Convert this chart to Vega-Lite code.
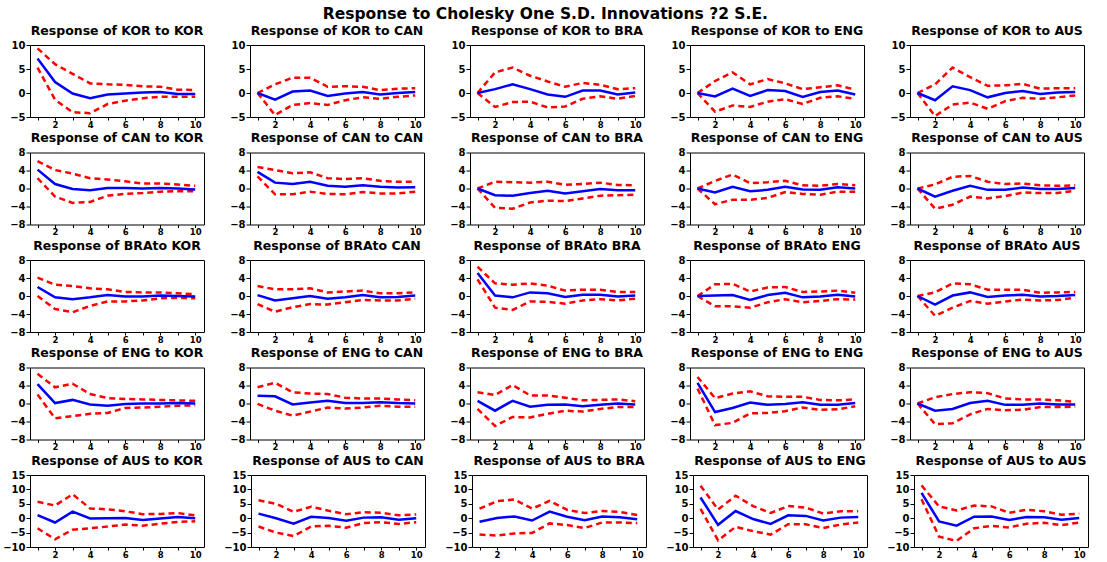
{
"$schema": "https://vega.github.io/schema/vega-lite/v6.json",
"padding": {"left": 2, "top": 6, "right": 0, "bottom": 0},
"title": {"text": "Response to Cholesky One S.D. Innovations ?2 S.E.", "font": "DejaVu Sans", "fontSize": 15.5, "fontWeight": "bold", "color": "black", "anchor": "middle", "offset": 2.5},
"datasets": {"d": [
{"r":"KOR","s":"KOR","t":1,"m":7.2,"l":5.3,"h":9.3},{"r":"KOR","s":"KOR","t":2,"m":2.3,"l":-1.4,"h":6.0},{"r":"KOR","s":"KOR","t":3,"m":-0.1,"l":-4.0,"h":4.0},{"r":"KOR","s":"KOR","t":4,"m":-1.1,"l":-4.2,"h":2.0},{"r":"KOR","s":"KOR","t":5,"m":-0.3,"l":-2.3,"h":1.8},{"r":"KOR","s":"KOR","t":6,"m":-0.1,"l":-1.6,"h":1.7},{"r":"KOR","s":"KOR","t":7,"m":0.1,"l":-1.1,"h":1.4},{"r":"KOR","s":"KOR","t":8,"m":0.2,"l":-0.8,"h":1.3},{"r":"KOR","s":"KOR","t":9,"m":-0.2,"l":-0.8,"h":0.7},{"r":"KOR","s":"KOR","t":10,"m":-0.2,"l":-0.8,"h":0.6},
{"r":"KOR","s":"CAN","t":1,"m":0,"l":0,"h":0},{"r":"KOR","s":"CAN","t":2,"m":-1.4,"l":-4.6,"h":1.8},{"r":"KOR","s":"CAN","t":3,"m":0.3,"l":-2.5,"h":3.2},{"r":"KOR","s":"CAN","t":4,"m":0.5,"l":-2.1,"h":3.2},{"r":"KOR","s":"CAN","t":5,"m":-0.6,"l":-2.5,"h":1.3},{"r":"KOR","s":"CAN","t":6,"m":-0.1,"l":-1.5,"h":1.4},{"r":"KOR","s":"CAN","t":7,"m":0.2,"l":-0.9,"h":1.3},{"r":"KOR","s":"CAN","t":8,"m":-0.3,"l":-1.2,"h":0.6},{"r":"KOR","s":"CAN","t":9,"m":0,"l":-0.8,"h":0.9},{"r":"KOR","s":"CAN","t":10,"m":0.2,"l":-0.5,"h":1.0},
{"r":"KOR","s":"BRA","t":1,"m":0,"l":0,"h":0},{"r":"KOR","s":"BRA","t":2,"m":0.8,"l":-2.9,"h":4.3},{"r":"KOR","s":"BRA","t":3,"m":1.8,"l":-1.9,"h":5.3},{"r":"KOR","s":"BRA","t":4,"m":0.8,"l":-1.8,"h":3.6},{"r":"KOR","s":"BRA","t":5,"m":-0.3,"l":-3.0,"h":2.4},{"r":"KOR","s":"BRA","t":6,"m":-0.8,"l":-2.8,"h":1.3},{"r":"KOR","s":"BRA","t":7,"m":0.5,"l":-1.2,"h":2.1},{"r":"KOR","s":"BRA","t":8,"m":0.5,"l":-0.7,"h":1.7},{"r":"KOR","s":"BRA","t":9,"m":-0.3,"l":-1.2,"h":0.8},{"r":"KOR","s":"BRA","t":10,"m":0.1,"l":-0.6,"h":1.0},
{"r":"KOR","s":"ENG","t":1,"m":0,"l":0,"h":0},{"r":"KOR","s":"ENG","t":2,"m":-0.7,"l":-3.9,"h":2.5},{"r":"KOR","s":"ENG","t":3,"m":0.9,"l":-2.6,"h":4.3},{"r":"KOR","s":"ENG","t":4,"m":-0.6,"l":-2.9,"h":1.8},{"r":"KOR","s":"ENG","t":5,"m":0.6,"l":-1.8,"h":2.9},{"r":"KOR","s":"ENG","t":6,"m":0.4,"l":-1.3,"h":2.0},{"r":"KOR","s":"ENG","t":7,"m":-0.8,"l":-2.3,"h":0.8},{"r":"KOR","s":"ENG","t":8,"m":0.2,"l":-1.0,"h":1.2},{"r":"KOR","s":"ENG","t":9,"m":0.5,"l":-0.7,"h":1.6},{"r":"KOR","s":"ENG","t":10,"m":-0.3,"l":-1.2,"h":0.7},
{"r":"KOR","s":"AUS","t":1,"m":0,"l":0,"h":0},{"r":"KOR","s":"AUS","t":2,"m":-1.5,"l":-4.8,"h":1.8},{"r":"KOR","s":"AUS","t":3,"m":1.4,"l":-2.4,"h":5.3},{"r":"KOR","s":"AUS","t":4,"m":0.6,"l":-2.0,"h":3.3},{"r":"KOR","s":"AUS","t":5,"m":-0.9,"l":-3.3,"h":1.5},{"r":"KOR","s":"AUS","t":6,"m":0,"l":-1.7,"h":1.6},{"r":"KOR","s":"AUS","t":7,"m":0.4,"l":-1.0,"h":1.9},{"r":"KOR","s":"AUS","t":8,"m":-0.2,"l":-1.2,"h":0.9},{"r":"KOR","s":"AUS","t":9,"m":0.1,"l":-0.9,"h":1.0},{"r":"KOR","s":"AUS","t":10,"m":0.2,"l":-0.5,"h":1.0},
{"r":"CAN","s":"KOR","t":1,"m":4.2,"l":2.3,"h":6.1},{"r":"CAN","s":"KOR","t":2,"m":1.0,"l":-1.8,"h":4.1},{"r":"CAN","s":"KOR","t":3,"m":-0.1,"l":-3.2,"h":3.3},{"r":"CAN","s":"KOR","t":4,"m":-0.4,"l":-3.0,"h":2.3},{"r":"CAN","s":"KOR","t":5,"m":0.1,"l":-1.6,"h":2.0},{"r":"CAN","s":"KOR","t":6,"m":0.1,"l":-1.2,"h":1.6},{"r":"CAN","s":"KOR","t":7,"m":0,"l":-1.0,"h":1.1},{"r":"CAN","s":"KOR","t":8,"m":0.1,"l":-0.7,"h":1.1},{"r":"CAN","s":"KOR","t":9,"m":0,"l":-0.6,"h":0.9},{"r":"CAN","s":"KOR","t":10,"m":-0.2,"l":-0.6,"h":0.6},
{"r":"CAN","s":"CAN","t":1,"m":3.7,"l":2.7,"h":4.8},{"r":"CAN","s":"CAN","t":2,"m":1.3,"l":-1.3,"h":4.1},{"r":"CAN","s":"CAN","t":3,"m":1.0,"l":-1.3,"h":3.4},{"r":"CAN","s":"CAN","t":4,"m":1.5,"l":-0.7,"h":3.6},{"r":"CAN","s":"CAN","t":5,"m":0.6,"l":-1.2,"h":2.3},{"r":"CAN","s":"CAN","t":6,"m":0.4,"l":-1.3,"h":2.1},{"r":"CAN","s":"CAN","t":7,"m":0.7,"l":-0.8,"h":2.3},{"r":"CAN","s":"CAN","t":8,"m":0.4,"l":-1.1,"h":1.7},{"r":"CAN","s":"CAN","t":9,"m":0.2,"l":-1.1,"h":1.5},{"r":"CAN","s":"CAN","t":10,"m":0.3,"l":-0.7,"h":1.5},
{"r":"CAN","s":"BRA","t":1,"m":0,"l":0,"h":0},{"r":"CAN","s":"BRA","t":2,"m":-1.5,"l":-4.3,"h":1.5},{"r":"CAN","s":"BRA","t":3,"m":-1.6,"l":-4.5,"h":1.4},{"r":"CAN","s":"BRA","t":4,"m":-1.0,"l":-3.1,"h":1.3},{"r":"CAN","s":"BRA","t":5,"m":-0.5,"l":-2.7,"h":1.5},{"r":"CAN","s":"BRA","t":6,"m":-1.1,"l":-2.8,"h":0.8},{"r":"CAN","s":"BRA","t":7,"m":-0.6,"l":-2.2,"h":1.0},{"r":"CAN","s":"BRA","t":8,"m":-0.1,"l":-1.6,"h":1.3},{"r":"CAN","s":"BRA","t":9,"m":-0.4,"l":-1.5,"h":0.8},{"r":"CAN","s":"BRA","t":10,"m":-0.4,"l":-1.4,"h":0.7},
{"r":"CAN","s":"ENG","t":1,"m":0,"l":0,"h":0},{"r":"CAN","s":"ENG","t":2,"m":-0.9,"l":-3.5,"h":1.7},{"r":"CAN","s":"ENG","t":3,"m":0.4,"l":-2.5,"h":3.1},{"r":"CAN","s":"ENG","t":4,"m":-0.6,"l":-2.5,"h":1.2},{"r":"CAN","s":"ENG","t":5,"m":-0.3,"l":-2.1,"h":1.4},{"r":"CAN","s":"ENG","t":6,"m":0.4,"l":-0.8,"h":1.7},{"r":"CAN","s":"ENG","t":7,"m":-0.2,"l":-1.2,"h":0.7},{"r":"CAN","s":"ENG","t":8,"m":-0.3,"l":-1.4,"h":0.6},{"r":"CAN","s":"ENG","t":9,"m":0.3,"l":-0.7,"h":1.0},{"r":"CAN","s":"ENG","t":10,"m":0,"l":-0.7,"h":0.7},
{"r":"CAN","s":"AUS","t":1,"m":0,"l":0,"h":0},{"r":"CAN","s":"AUS","t":2,"m":-1.8,"l":-4.5,"h":0.9},{"r":"CAN","s":"AUS","t":3,"m":-0.5,"l":-3.6,"h":2.6},{"r":"CAN","s":"AUS","t":4,"m":0.6,"l":-1.8,"h":2.8},{"r":"CAN","s":"AUS","t":5,"m":-0.3,"l":-2.2,"h":1.5},{"r":"CAN","s":"AUS","t":6,"m":-0.3,"l":-1.7,"h":1.0},{"r":"CAN","s":"AUS","t":7,"m":0.2,"l":-0.9,"h":1.1},{"r":"CAN","s":"AUS","t":8,"m":-0.1,"l":-1.0,"h":0.7},{"r":"CAN","s":"AUS","t":9,"m":-0.1,"l":-1.0,"h":0.6},{"r":"CAN","s":"AUS","t":10,"m":0.1,"l":-0.5,"h":0.7},
{"r":"BRA","s":"KOR","t":1,"m":2.0,"l":0,"h":4.1},{"r":"BRA","s":"KOR","t":2,"m":-0.3,"l":-2.9,"h":2.5},{"r":"BRA","s":"KOR","t":3,"m":-0.7,"l":-3.6,"h":2.2},{"r":"BRA","s":"KOR","t":4,"m":-0.3,"l":-2.2,"h":1.7},{"r":"BRA","s":"KOR","t":5,"m":0.2,"l":-1.2,"h":1.5},{"r":"BRA","s":"KOR","t":6,"m":-0.1,"l":-1.2,"h":0.9},{"r":"BRA","s":"KOR","t":7,"m":-0.1,"l":-1.0,"h":0.8},{"r":"BRA","s":"KOR","t":8,"m":0.1,"l":-0.5,"h":0.8},{"r":"BRA","s":"KOR","t":9,"m":0,"l":-0.4,"h":0.6},{"r":"BRA","s":"KOR","t":10,"m":-0.1,"l":-0.5,"h":0.4},
{"r":"BRA","s":"CAN","t":1,"m":0.2,"l":-1.8,"h":2.2},{"r":"BRA","s":"CAN","t":2,"m":-1.0,"l":-3.5,"h":1.5},{"r":"BRA","s":"CAN","t":3,"m":-0.5,"l":-2.5,"h":1.5},{"r":"BRA","s":"CAN","t":4,"m":0,"l":-1.8,"h":1.7},{"r":"BRA","s":"CAN","t":5,"m":-0.6,"l":-1.9,"h":0.8},{"r":"BRA","s":"CAN","t":6,"m":-0.3,"l":-1.4,"h":1.0},{"r":"BRA","s":"CAN","t":7,"m":0.2,"l":-0.9,"h":1.2},{"r":"BRA","s":"CAN","t":8,"m":-0.3,"l":-1.0,"h":0.6},{"r":"BRA","s":"CAN","t":9,"m":-0.2,"l":-1.0,"h":0.6},{"r":"BRA","s":"CAN","t":10,"m":0.1,"l":-0.6,"h":0.8},
{"r":"BRA","s":"BRA","t":1,"m":5.1,"l":3.7,"h":6.5},{"r":"BRA","s":"BRA","t":2,"m":0.1,"l":-2.6,"h":2.8},{"r":"BRA","s":"BRA","t":3,"m":-0.3,"l":-3.1,"h":2.5},{"r":"BRA","s":"BRA","t":4,"m":0.8,"l":-1.2,"h":2.8},{"r":"BRA","s":"BRA","t":5,"m":0.6,"l":-1.3,"h":2.3},{"r":"BRA","s":"BRA","t":6,"m":-0.2,"l":-1.7,"h":1.2},{"r":"BRA","s":"BRA","t":7,"m":0.3,"l":-1.0,"h":1.4},{"r":"BRA","s":"BRA","t":8,"m":0.3,"l":-0.7,"h":1.4},{"r":"BRA","s":"BRA","t":9,"m":-0.1,"l":-1.0,"h":0.9},{"r":"BRA","s":"BRA","t":10,"m":0.1,"l":-0.6,"h":0.9},
{"r":"BRA","s":"ENG","t":1,"m":0,"l":0,"h":0},{"r":"BRA","s":"ENG","t":2,"m":0.1,"l":-2.3,"h":2.6},{"r":"BRA","s":"ENG","t":3,"m":0.2,"l":-2.3,"h":2.7},{"r":"BRA","s":"ENG","t":4,"m":-0.9,"l":-2.6,"h":1.0},{"r":"BRA","s":"ENG","t":5,"m":0.2,"l":-1.4,"h":1.9},{"r":"BRA","s":"ENG","t":6,"m":0.7,"l":-0.7,"h":2.0},{"r":"BRA","s":"ENG","t":7,"m":-0.3,"l":-1.4,"h":0.9},{"r":"BRA","s":"ENG","t":8,"m":-0.1,"l":-1.1,"h":1.0},{"r":"BRA","s":"ENG","t":9,"m":0.3,"l":-0.7,"h":1.2},{"r":"BRA","s":"ENG","t":10,"m":-0.1,"l":-0.8,"h":0.7},
{"r":"BRA","s":"AUS","t":1,"m":0,"l":0,"h":0},{"r":"BRA","s":"AUS","t":2,"m":-1.9,"l":-4.4,"h":0.8},{"r":"BRA","s":"AUS","t":3,"m":0.1,"l":-2.6,"h":2.8},{"r":"BRA","s":"AUS","t":4,"m":0.8,"l":-1.1,"h":2.6},{"r":"BRA","s":"AUS","t":5,"m":-0.2,"l":-1.7,"h":1.4},{"r":"BRA","s":"AUS","t":6,"m":0.1,"l":-1.2,"h":1.4},{"r":"BRA","s":"AUS","t":7,"m":0.3,"l":-0.8,"h":1.4},{"r":"BRA","s":"AUS","t":8,"m":-0.1,"l":-1.0,"h":0.7},{"r":"BRA","s":"AUS","t":9,"m":0,"l":-0.9,"h":0.8},{"r":"BRA","s":"AUS","t":10,"m":0.2,"l":-0.4,"h":0.9},
{"r":"ENG","s":"KOR","t":1,"m":4.3,"l":2.0,"h":6.6},{"r":"ENG","s":"KOR","t":2,"m":0.1,"l":-3.3,"h":3.6},{"r":"ENG","s":"KOR","t":3,"m":0.8,"l":-2.8,"h":4.4},{"r":"ENG","s":"KOR","t":4,"m":-0.2,"l":-2.3,"h":2.1},{"r":"ENG","s":"KOR","t":5,"m":-0.5,"l":-2.1,"h":1.2},{"r":"ENG","s":"KOR","t":6,"m":-0.1,"l":-1.0,"h":1.0},{"r":"ENG","s":"KOR","t":7,"m":0,"l":-0.9,"h":0.9},{"r":"ENG","s":"KOR","t":8,"m":0,"l":-0.7,"h":0.8},{"r":"ENG","s":"KOR","t":9,"m":0.1,"l":-0.5,"h":0.7},{"r":"ENG","s":"KOR","t":10,"m":0,"l":-0.4,"h":0.6},
{"r":"ENG","s":"CAN","t":1,"m":1.7,"l":-0.1,"h":3.6},{"r":"ENG","s":"CAN","t":2,"m":1.6,"l":-1.6,"h":4.6},{"r":"ENG","s":"CAN","t":3,"m":-0.2,"l":-2.7,"h":2.5},{"r":"ENG","s":"CAN","t":4,"m":0.2,"l":-1.8,"h":2.2},{"r":"ENG","s":"CAN","t":5,"m":0.6,"l":-0.9,"h":2.1},{"r":"ENG","s":"CAN","t":6,"m":0.1,"l":-1.1,"h":1.3},{"r":"ENG","s":"CAN","t":7,"m":0.1,"l":-0.9,"h":1.1},{"r":"ENG","s":"CAN","t":8,"m":0.3,"l":-0.5,"h":1.1},{"r":"ENG","s":"CAN","t":9,"m":0.1,"l":-0.7,"h":0.9},{"r":"ENG","s":"CAN","t":10,"m":0,"l":-0.7,"h":0.7},
{"r":"ENG","s":"BRA","t":1,"m":0.6,"l":-1.2,"h":2.5},{"r":"ENG","s":"BRA","t":2,"m":-1.6,"l":-5.0,"h":1.9},{"r":"ENG","s":"BRA","t":3,"m":0.6,"l":-3.0,"h":4.1},{"r":"ENG","s":"BRA","t":4,"m":-0.7,"l":-3.1,"h":1.8},{"r":"ENG","s":"BRA","t":5,"m":-0.3,"l":-2.3,"h":1.8},{"r":"ENG","s":"BRA","t":6,"m":-0.2,"l":-1.6,"h":1.3},{"r":"ENG","s":"BRA","t":7,"m":-0.6,"l":-1.8,"h":0.7},{"r":"ENG","s":"BRA","t":8,"m":-0.3,"l":-1.2,"h":0.8},{"r":"ENG","s":"BRA","t":9,"m":0,"l":-0.8,"h":0.9},{"r":"ENG","s":"BRA","t":10,"m":-0.2,"l":-0.8,"h":0.5},
{"r":"ENG","s":"ENG","t":1,"m":4.6,"l":3.3,"h":5.9},{"r":"ENG","s":"ENG","t":2,"m":-1.9,"l":-4.8,"h":1.2},{"r":"ENG","s":"ENG","t":3,"m":-1.0,"l":-4.3,"h":2.2},{"r":"ENG","s":"ENG","t":4,"m":0.2,"l":-2.2,"h":2.7},{"r":"ENG","s":"ENG","t":5,"m":-0.3,"l":-2.1,"h":1.6},{"r":"ENG","s":"ENG","t":6,"m":-0.1,"l":-1.7,"h":1.5},{"r":"ENG","s":"ENG","t":7,"m":0.3,"l":-0.9,"h":1.5},{"r":"ENG","s":"ENG","t":8,"m":-0.3,"l":-1.4,"h":0.8},{"r":"ENG","s":"ENG","t":9,"m":-0.3,"l":-1.3,"h":0.7},{"r":"ENG","s":"ENG","t":10,"m":0.1,"l":-0.6,"h":0.9},
{"r":"ENG","s":"AUS","t":1,"m":0,"l":0,"h":0},{"r":"ENG","s":"AUS","t":2,"m":-1.6,"l":-4.6,"h":1.4},{"r":"ENG","s":"AUS","t":3,"m":-1.2,"l":-4.4,"h":2.1},{"r":"ENG","s":"AUS","t":4,"m":0.1,"l":-2.4,"h":2.5},{"r":"ENG","s":"AUS","t":5,"m":0.6,"l":-1.2,"h":2.3},{"r":"ENG","s":"AUS","t":6,"m":-0.3,"l":-1.5,"h":1.1},{"r":"ENG","s":"AUS","t":7,"m":-0.3,"l":-1.4,"h":0.9},{"r":"ENG","s":"AUS","t":8,"m":0,"l":-0.8,"h":0.9},{"r":"ENG","s":"AUS","t":9,"m":-0.2,"l":-0.8,"h":0.7},{"r":"ENG","s":"AUS","t":10,"m":-0.2,"l":-0.7,"h":0.4},
{"r":"AUS","s":"KOR","t":1,"m":1.1,"l":-3.5,"h":5.7},{"r":"AUS","s":"KOR","t":2,"m":-1.5,"l":-7.3,"h":4.4},{"r":"AUS","s":"KOR","t":3,"m":2.3,"l":-4.0,"h":8.3},{"r":"AUS","s":"KOR","t":4,"m":-0.1,"l":-3.5,"h":3.4},{"r":"AUS","s":"KOR","t":5,"m":0,"l":-2.9,"h":3.1},{"r":"AUS","s":"KOR","t":6,"m":0.1,"l":-2.2,"h":2.4},{"r":"AUS","s":"KOR","t":7,"m":-0.6,"l":-2.6,"h":1.4},{"r":"AUS","s":"KOR","t":8,"m":-0.1,"l":-1.9,"h":1.5},{"r":"AUS","s":"KOR","t":9,"m":0.4,"l":-1.3,"h":1.8},{"r":"AUS","s":"KOR","t":10,"m":0,"l":-1.1,"h":1.0},
{"r":"AUS","s":"CAN","t":1,"m":1.6,"l":-2.9,"h":6.2},{"r":"AUS","s":"CAN","t":2,"m":0,"l":-5.0,"h":5.0},{"r":"AUS","s":"CAN","t":3,"m":-1.9,"l":-6.2,"h":2.2},{"r":"AUS","s":"CAN","t":4,"m":0.5,"l":-2.9,"h":4.0},{"r":"AUS","s":"CAN","t":5,"m":0.1,"l":-2.6,"h":2.6},{"r":"AUS","s":"CAN","t":6,"m":-0.9,"l":-3.3,"h":1.4},{"r":"AUS","s":"CAN","t":7,"m":0.2,"l":-1.7,"h":2.1},{"r":"AUS","s":"CAN","t":8,"m":0.3,"l":-1.4,"h":1.9},{"r":"AUS","s":"CAN","t":9,"m":-0.5,"l":-2.0,"h":1.0},{"r":"AUS","s":"CAN","t":10,"m":0,"l":-1.4,"h":1.3},
{"r":"AUS","s":"BRA","t":1,"m":-1.2,"l":-5.7,"h":3.3},{"r":"AUS","s":"BRA","t":2,"m":0.1,"l":-6.0,"h":5.9},{"r":"AUS","s":"BRA","t":3,"m":0.6,"l":-5.3,"h":6.5},{"r":"AUS","s":"BRA","t":4,"m":-0.8,"l":-5.1,"h":3.3},{"r":"AUS","s":"BRA","t":5,"m":2.3,"l":-1.8,"h":6.0},{"r":"AUS","s":"BRA","t":6,"m":0.5,"l":-2.4,"h":2.9},{"r":"AUS","s":"BRA","t":7,"m":-0.7,"l":-3.4,"h":1.8},{"r":"AUS","s":"BRA","t":8,"m":0.6,"l":-1.5,"h":2.5},{"r":"AUS","s":"BRA","t":9,"m":0.3,"l":-1.5,"h":2.2},{"r":"AUS","s":"BRA","t":10,"m":-0.4,"l":-1.7,"h":1.1},
{"r":"AUS","s":"ENG","t":1,"m":7.2,"l":3.2,"h":11.3},{"r":"AUS","s":"ENG","t":2,"m":-2.3,"l":-7.7,"h":3.0},{"r":"AUS","s":"ENG","t":3,"m":2.5,"l":-3.0,"h":7.8},{"r":"AUS","s":"ENG","t":4,"m":-0.3,"l":-4.5,"h":4.2},{"r":"AUS","s":"ENG","t":5,"m":-2.0,"l":-5.7,"h":1.8},{"r":"AUS","s":"ENG","t":6,"m":1.0,"l":-2.1,"h":4.2},{"r":"AUS","s":"ENG","t":7,"m":0.8,"l":-2.1,"h":3.7},{"r":"AUS","s":"ENG","t":8,"m":-0.8,"l":-3.4,"h":1.6},{"r":"AUS","s":"ENG","t":9,"m":0.2,"l":-2.2,"h":2.4},{"r":"AUS","s":"ENG","t":10,"m":0.4,"l":-1.5,"h":2.4},
{"r":"AUS","s":"AUS","t":1,"m":8.8,"l":6.6,"h":11.4},{"r":"AUS","s":"AUS","t":2,"m":-1.1,"l":-6.4,"h":4.1},{"r":"AUS","s":"AUS","t":3,"m":-2.6,"l":-7.9,"h":2.7},{"r":"AUS","s":"AUS","t":4,"m":0.5,"l":-3.5,"h":4.4},{"r":"AUS","s":"AUS","t":5,"m":0.6,"l":-2.7,"h":4.1},{"r":"AUS","s":"AUS","t":6,"m":-0.6,"l":-3.2,"h":1.9},{"r":"AUS","s":"AUS","t":7,"m":0.4,"l":-1.9,"h":2.9},{"r":"AUS","s":"AUS","t":8,"m":0.3,"l":-1.6,"h":2.4},{"r":"AUS","s":"AUS","t":9,"m":-0.5,"l":-2.4,"h":1.2},{"r":"AUS","s":"AUS","t":10,"m":0.1,"l":-1.5,"h":1.6}
]},
"spacing": 1.5,
"vconcat": [
{"data": {"name": "d"}, "transform": [{"filter": "datum.r == 'KOR'"}],
 "facet": {"column": {"field": "s", "sort": ["KOR","CAN","BRA","ENG","AUS"], "header": {"title": null, "labelExpr": "'Response of KOR to ' + datum.value"}}},
 "spacing": 18, "resolve": {"scale": {"y": "independent"}, "axis": {"x": "independent"}},
 "spec": {"width": 174, "height": 72,
  "encoding": {"x": {"field": "t", "type": "quantitative", "title": null, "scale": {"domain": [0.57, 10.5], "nice": false, "zero": false}, "axis": {"values": [1,2,3,4,5,6,7,8,9,10], "labelExpr": "datum.value % 2 == 0 ? datum.label : ''"}}},
  "layer": [
   {"mark": {"type": "rule", "color": "#808080", "strokeWidth": 2}, "encoding": {"y": {"datum": 0, "type": "quantitative", "title": null, "scale": {"domain": [-5, 10], "nice": false, "zero": false}, "axis": {"values": [-5, 0, 5, 10]}}}},
   {"mark": {"type": "line", "color": "#FF0000", "strokeWidth": 2.5, "strokeDash": [6, 4]}, "encoding": {"y": {"field": "h", "type": "quantitative", "title": null, "scale": {"domain": [-5, 10], "nice": false, "zero": false}, "axis": {"values": [-5, 0, 5, 10]}}}},
   {"mark": {"type": "line", "color": "#FF0000", "strokeWidth": 2.5, "strokeDash": [6, 4]}, "encoding": {"y": {"field": "l", "type": "quantitative", "title": null, "scale": {"domain": [-5, 10], "nice": false, "zero": false}, "axis": {"values": [-5, 0, 5, 10]}}}},
   {"mark": {"type": "line", "color": "#0000FF", "strokeWidth": 2.5}, "encoding": {"y": {"field": "m", "type": "quantitative", "title": null, "scale": {"domain": [-5, 10], "nice": false, "zero": false}, "axis": {"values": [-5, 0, 5, 10]}}}}
  ]}},
{"data": {"name": "d"}, "transform": [{"filter": "datum.r == 'CAN'"}],
 "facet": {"column": {"field": "s", "sort": ["KOR","CAN","BRA","ENG","AUS"], "header": {"title": null, "labelExpr": "'Response of CAN to ' + datum.value"}}},
 "spacing": 18, "resolve": {"scale": {"y": "independent"}, "axis": {"x": "independent"}},
 "spec": {"width": 174, "height": 72,
  "encoding": {"x": {"field": "t", "type": "quantitative", "title": null, "scale": {"domain": [0.57, 10.5], "nice": false, "zero": false}, "axis": {"values": [1,2,3,4,5,6,7,8,9,10], "labelExpr": "datum.value % 2 == 0 ? datum.label : ''"}}},
  "layer": [
   {"mark": {"type": "rule", "color": "black", "strokeWidth": 1}, "encoding": {"y": {"datum": 0, "type": "quantitative", "title": null, "scale": {"domain": [-8, 8], "nice": false, "zero": false}, "axis": {"values": [-8, -4, 0, 4, 8]}}}},
   {"mark": {"type": "line", "color": "#FF0000", "strokeWidth": 2.5, "strokeDash": [6, 4]}, "encoding": {"y": {"field": "h", "type": "quantitative", "title": null, "scale": {"domain": [-8, 8], "nice": false, "zero": false}, "axis": {"values": [-8, -4, 0, 4, 8]}}}},
   {"mark": {"type": "line", "color": "#FF0000", "strokeWidth": 2.5, "strokeDash": [6, 4]}, "encoding": {"y": {"field": "l", "type": "quantitative", "title": null, "scale": {"domain": [-8, 8], "nice": false, "zero": false}, "axis": {"values": [-8, -4, 0, 4, 8]}}}},
   {"mark": {"type": "line", "color": "#0000FF", "strokeWidth": 2.5}, "encoding": {"y": {"field": "m", "type": "quantitative", "title": null, "scale": {"domain": [-8, 8], "nice": false, "zero": false}, "axis": {"values": [-8, -4, 0, 4, 8]}}}}
  ]}},
{"data": {"name": "d"}, "transform": [{"filter": "datum.r == 'BRA'"}],
 "facet": {"column": {"field": "s", "sort": ["KOR","CAN","BRA","ENG","AUS"], "header": {"title": null, "labelExpr": "'Response of BRAto ' + datum.value"}}},
 "spacing": 18, "resolve": {"scale": {"y": "independent"}, "axis": {"x": "independent"}},
 "spec": {"width": 174, "height": 72,
  "encoding": {"x": {"field": "t", "type": "quantitative", "title": null, "scale": {"domain": [0.57, 10.5], "nice": false, "zero": false}, "axis": {"values": [1,2,3,4,5,6,7,8,9,10], "labelExpr": "datum.value % 2 == 0 ? datum.label : ''"}}},
  "layer": [
   {"mark": {"type": "rule", "color": "black", "strokeWidth": 1}, "encoding": {"y": {"datum": 0, "type": "quantitative", "title": null, "scale": {"domain": [-8, 8], "nice": false, "zero": false}, "axis": {"values": [-8, -4, 0, 4, 8]}}}},
   {"mark": {"type": "line", "color": "#FF0000", "strokeWidth": 2.5, "strokeDash": [6, 4]}, "encoding": {"y": {"field": "h", "type": "quantitative", "title": null, "scale": {"domain": [-8, 8], "nice": false, "zero": false}, "axis": {"values": [-8, -4, 0, 4, 8]}}}},
   {"mark": {"type": "line", "color": "#FF0000", "strokeWidth": 2.5, "strokeDash": [6, 4]}, "encoding": {"y": {"field": "l", "type": "quantitative", "title": null, "scale": {"domain": [-8, 8], "nice": false, "zero": false}, "axis": {"values": [-8, -4, 0, 4, 8]}}}},
   {"mark": {"type": "line", "color": "#0000FF", "strokeWidth": 2.5}, "encoding": {"y": {"field": "m", "type": "quantitative", "title": null, "scale": {"domain": [-8, 8], "nice": false, "zero": false}, "axis": {"values": [-8, -4, 0, 4, 8]}}}}
  ]}},
{"data": {"name": "d"}, "transform": [{"filter": "datum.r == 'ENG'"}],
 "facet": {"column": {"field": "s", "sort": ["KOR","CAN","BRA","ENG","AUS"], "header": {"title": null, "labelExpr": "'Response of ENG to ' + datum.value"}}},
 "spacing": 18, "resolve": {"scale": {"y": "independent"}, "axis": {"x": "independent"}},
 "spec": {"width": 174, "height": 72,
  "encoding": {"x": {"field": "t", "type": "quantitative", "title": null, "scale": {"domain": [0.57, 10.5], "nice": false, "zero": false}, "axis": {"values": [1,2,3,4,5,6,7,8,9,10], "labelExpr": "datum.value % 2 == 0 ? datum.label : ''"}}},
  "layer": [
   {"mark": {"type": "rule", "color": "black", "strokeWidth": 1}, "encoding": {"y": {"datum": 0, "type": "quantitative", "title": null, "scale": {"domain": [-8, 8], "nice": false, "zero": false}, "axis": {"values": [-8, -4, 0, 4, 8]}}}},
   {"mark": {"type": "line", "color": "#FF0000", "strokeWidth": 2.5, "strokeDash": [6, 4]}, "encoding": {"y": {"field": "h", "type": "quantitative", "title": null, "scale": {"domain": [-8, 8], "nice": false, "zero": false}, "axis": {"values": [-8, -4, 0, 4, 8]}}}},
   {"mark": {"type": "line", "color": "#FF0000", "strokeWidth": 2.5, "strokeDash": [6, 4]}, "encoding": {"y": {"field": "l", "type": "quantitative", "title": null, "scale": {"domain": [-8, 8], "nice": false, "zero": false}, "axis": {"values": [-8, -4, 0, 4, 8]}}}},
   {"mark": {"type": "line", "color": "#0000FF", "strokeWidth": 2.5}, "encoding": {"y": {"field": "m", "type": "quantitative", "title": null, "scale": {"domain": [-8, 8], "nice": false, "zero": false}, "axis": {"values": [-8, -4, 0, 4, 8]}}}}
  ]}},
{"data": {"name": "d"}, "transform": [{"filter": "datum.r == 'AUS'"}],
 "facet": {"column": {"field": "s", "sort": ["KOR","CAN","BRA","ENG","AUS"], "header": {"title": null, "labelExpr": "'Response of AUS to ' + datum.value"}}},
 "spacing": 18, "resolve": {"scale": {"y": "independent"}, "axis": {"x": "independent"}},
 "spec": {"width": 174, "height": 72,
  "encoding": {"x": {"field": "t", "type": "quantitative", "title": null, "scale": {"domain": [0.57, 10.5], "nice": false, "zero": false}, "axis": {"values": [1,2,3,4,5,6,7,8,9,10], "labelExpr": "datum.value % 2 == 0 ? datum.label : ''"}}},
  "layer": [
   {"mark": {"type": "rule", "color": "black", "strokeWidth": 1}, "encoding": {"y": {"datum": 0, "type": "quantitative", "title": null, "scale": {"domain": [-10, 15], "nice": false, "zero": false}, "axis": {"values": [-10, -5, 0, 5, 10, 15]}}}},
   {"mark": {"type": "line", "color": "#FF0000", "strokeWidth": 2.5, "strokeDash": [6, 4]}, "encoding": {"y": {"field": "h", "type": "quantitative", "title": null, "scale": {"domain": [-10, 15], "nice": false, "zero": false}, "axis": {"values": [-10, -5, 0, 5, 10, 15]}}}},
   {"mark": {"type": "line", "color": "#FF0000", "strokeWidth": 2.5, "strokeDash": [6, 4]}, "encoding": {"y": {"field": "l", "type": "quantitative", "title": null, "scale": {"domain": [-10, 15], "nice": false, "zero": false}, "axis": {"values": [-10, -5, 0, 5, 10, 15]}}}},
   {"mark": {"type": "line", "color": "#0000FF", "strokeWidth": 2.5}, "encoding": {"y": {"field": "m", "type": "quantitative", "title": null, "scale": {"domain": [-10, 15], "nice": false, "zero": false}, "axis": {"values": [-10, -5, 0, 5, 10, 15]}}}}
  ]}}
],
"config": {
 "font": "DejaVu Sans",
 "view": {"stroke": "black", "strokeWidth": 1},
 "axis": {"grid": false, "domain": false, "labelFont": "DejaVu Sans", "labelFontWeight": "bold", "labelFontSize": 10, "labelColor": "black", "tickColor": "black", "tickSize": 4, "labelPadding": 1, "labelOverlap": false, "labelBound": false},
 "axisY": {"minExtent": 26, "maxExtent": 26, "labelFlush": false},
 "axisX": {"minExtent": 12, "maxExtent": 12, "labelFlush": false, "labelFontSize": 8.5, "tickSize": 3, "labelPadding": 0},
 "header": {"labelFont": "DejaVu Sans", "labelFontWeight": "bold", "labelFontSize": 12.5, "labelColor": "black", "labelPadding": 2}
}
}
